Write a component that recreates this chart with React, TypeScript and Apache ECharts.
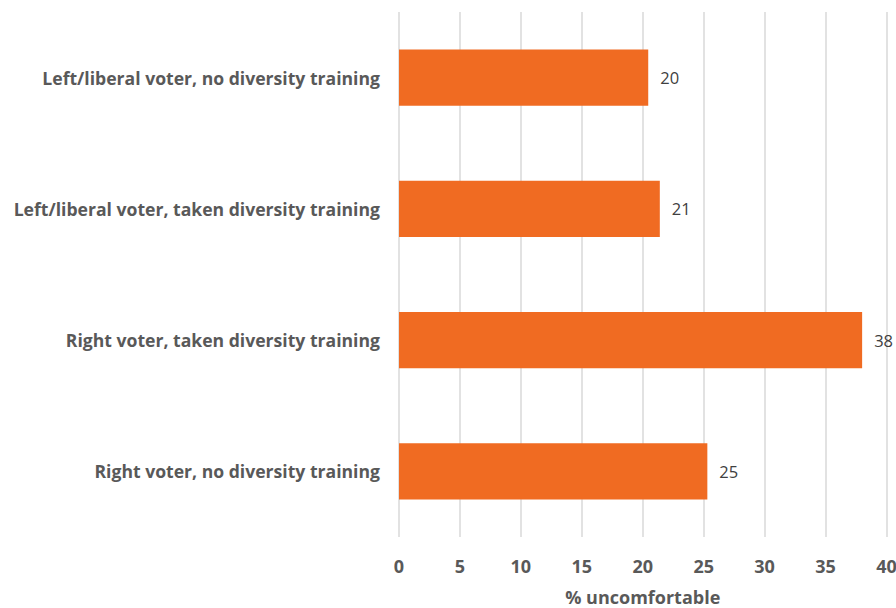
import React, { useEffect, useRef } from "react";
import * as echarts from "echarts";

const categories = [
  "Left/liberal voter, no diversity training",
  "Left/liberal voter, taken diversity training",
  "Right voter, taken diversity training",
  "Right voter, no diversity training",
];
const values = [20.45, 21.4, 38.0, 25.3];
const xTicks = { min: 0, max: 40, interval: 5 };
const axisTitle = "% uncomfortable";

export default function App() {
  const ref = useRef<HTMLDivElement>(null);
  useEffect(() => {
    if (!ref.current) return;
    const chart = echarts.init(ref.current, null, { renderer: "svg" });
    const font = "'Open Sans', sans-serif";
    chart.setOption({
      animation: false,
      grid: {
        left: 399,
        right: 9.5,
        top: 12,
        bottom: 71,
        containLabel: false,
        outerBoundsMode: "none",
      },
      xAxis: {
        type: "value",
        min: xTicks.min,
        max: xTicks.max,
        interval: xTicks.interval,
        axisLine: { show: false },
        axisTick: { show: false },
        splitLine: { show: true, lineStyle: { color: "#d9d9d9", width: 1.5 } },
        axisLabel: {
          color: "#595959",
          fontSize: 18,
          fontWeight: "bold",
          fontFamily: font,
          margin: 20,
        },
        name: axisTitle,
        nameLocation: "middle",
        nameGap: 51,
        nameTextStyle: {
          color: "#595959",
          fontSize: 18,
          lineHeight: 18,
          fontWeight: "bold",
          fontFamily: font,
        },
      },
      yAxis: {
        type: "category",
        data: categories,
        inverse: true,
        axisLine: { show: false },
        axisTick: { show: false },
        splitLine: { show: false },
        axisLabel: {
          color: "#595959",
          fontSize: 17.6,
          fontWeight: "bold",
          fontFamily: font,
          margin: 19,
        },
      },
      series: [
        {
          type: "bar",
          data: values,
          barCategoryGap: "57%",
          itemStyle: { color: "#f06b22" },
          label: {
            show: true,
            position: "right",
            distance: 12,
            color: "#404040",
            fontSize: 16.5,
            fontFamily: font,
            formatter: (p: any) => String(Math.round(p.value)),
          },
        },
      ],
    });
    return () => chart.dispose();
  }, []);
  return <div ref={ref} style={{ width: 896, height: 608, position: "absolute", left: 0, top: 0 }} />;
}
